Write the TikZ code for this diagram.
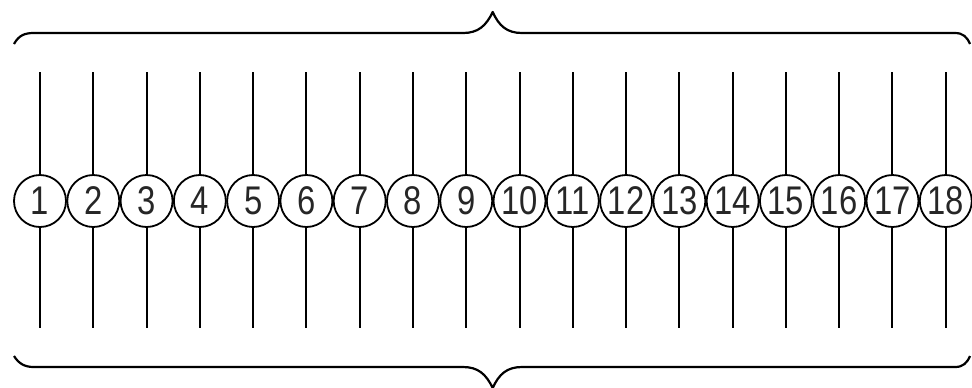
\documentclass[tikz,border=0pt]{standalone}
\usepackage{fontspec}
\newfontfamily\numfont[FakeStretch=0.82]{Liberation Sans}
\usetikzlibrary{calc}
\tikzset{
    numcircle/.style={circle, draw=black, line width=0.9pt, minimum size=26pt, inner sep=0pt,
        font=\numfont\fontsize{20}{20}\selectfont, text=black!85},
    wire/.style={line width=1pt},
    bracket/.style={line width=1.1pt, line join=round},
}

\begin{document}
\begin{tikzpicture}[x=0.5pt, y=-0.5pt]
    \useasboundingbox (0,0) rectangle (972,387);
    % numbered circles with their wires
    \foreach \i in {1,...,18} {
        \node[numcircle] (c\i) at ({40+53.28*(\i-1)}, 201) {\i};
        \coordinate (t\i) at ({40+53.28*(\i-1)}, 72);
        \coordinate (b\i) at ({40+53.28*(\i-1)}, 328);
        \draw[wire] (t\i) -- (c\i);
        \draw[wire] (c\i) -- (b\i);
    }
    % top brace
    \coordinate (topL) at (14,44);
    \coordinate (topM) at (492.7,12);
    \coordinate (topR) at (970,44);
    \draw[bracket] (topL) .. controls (19,35) and (25,33) .. (34,33) -- (463,33)
        .. controls (478,33) and (486,26) .. (topM)
        .. controls (499,26) and (507,33) .. (522,33) -- (955,33)
        .. controls (963,33) and (967,37) .. (topR);
    % bottom brace
    \coordinate (botL) at (14,356);
    \coordinate (botM) at (492.7,388);
    \coordinate (botR) at (970,356);
    \draw[bracket] (botL) .. controls (19,364) and (25,367) .. (34,367) -- (463,367)
        .. controls (478,367) and (486,374) .. (botM)
        .. controls (499,374) and (507,367) .. (522,367) -- (955,367)
        .. controls (963,367) and (967,363) .. (botR);
\end{tikzpicture}
\end{document}
